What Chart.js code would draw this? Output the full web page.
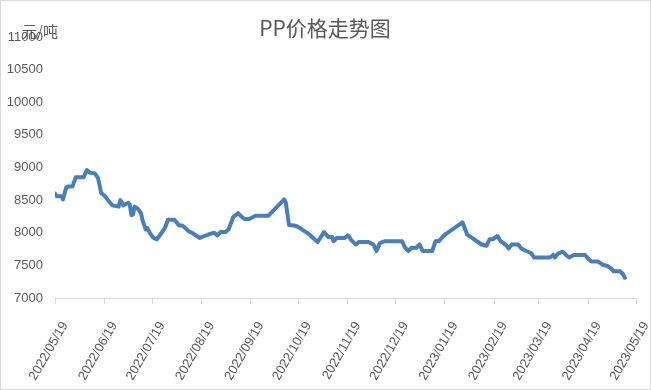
<!DOCTYPE html>
<html>
<head>
<meta charset="utf-8">
<script src="https://cdn.jsdelivr.net/npm/chart.js@4/dist/chart.umd.min.js"></script>
<style>
  html, body { margin: 0; padding: 0; background: #fff; }
  canvas { display: block; }
</style>
</head>
<body>
<canvas id="c" width="651" height="390"></canvas>
<script>
const chartTitle = 'PP价格走势图';
const unitLabel = '元/吨';

const dates = [
  '2022-05-19','2022-05-20','2022-05-23','2022-05-24','2022-05-26','2022-05-27','2022-05-30',
  '2022-06-01','2022-06-06','2022-06-08','2022-06-10','2022-06-13','2022-06-15','2022-06-17',
  '2022-06-19','2022-06-22','2022-06-24','2022-06-28','2022-06-29','2022-07-01','2022-07-04',
  '2022-07-05','2022-07-06','2022-07-07','2022-07-08','2022-07-10','2022-07-12','2022-07-13',
  '2022-07-15','2022-07-16','2022-07-18','2022-07-20','2022-07-22','2022-07-25','2022-07-27',
  '2022-07-29','2022-08-02','2022-08-05','2022-08-07','2022-08-09','2022-08-11','2022-08-13',
  '2022-08-18','2022-08-21','2022-08-24','2022-08-27','2022-08-29','2022-08-31','2022-09-03',
  '2022-09-05','2022-09-08','2022-09-11','2022-09-13','2022-09-15','2022-09-18','2022-09-22',
  '2022-09-30','2022-10-10','2022-10-11','2022-10-13','2022-10-16','2022-10-18','2022-10-20',
  '2022-10-23','2022-10-26','2022-10-29','2022-10-31','2022-11-04','2022-11-07','2022-11-09',
  '2022-11-10','2022-11-12','2022-11-17','2022-11-19','2022-11-20','2022-11-21','2022-11-24',
  '2022-11-26','2022-12-02','2022-12-05','2022-12-07','2022-12-09','2022-12-12','2022-12-23',
  '2022-12-25','2022-12-27','2022-12-29','2023-01-01','2023-01-03','2023-01-05','2023-01-11',
  '2023-01-13','2023-01-15','2023-01-17','2023-01-19','2023-01-30','2023-02-02','2023-02-05',
  '2023-02-08','2023-02-11','2023-02-14','2023-02-16','2023-02-18','2023-02-21','2023-02-23',
  '2023-02-26','2023-02-28','2023-03-02','2023-03-06','2023-03-08','2023-03-11','2023-03-14',
  '2023-03-16','2023-03-26','2023-03-28','2023-03-29','2023-03-31','2023-04-03','2023-04-05',
  '2023-04-07','2023-04-10','2023-04-17','2023-04-19','2023-04-21','2023-04-25','2023-04-28',
  '2023-05-01','2023-05-03','2023-05-05','2023-05-09','2023-05-11','2023-05-12'
];

const prices = [
  8600,8560,8560,8510,8690,8710,8710,
  8850,8850,8960,8920,8910,8840,8610,
  8570,8480,8420,8400,8500,8420,8460,
  8430,8270,8280,8400,8370,8300,8190,
  8050,8070,7980,7920,7900,8000,8070,
  8200,8200,8110,8110,8070,8020,8000,
  7920,7950,7980,8000,7960,8010,8010,
  8050,8240,8300,8250,8210,8210,8260,
  8260,8510,8460,8120,8110,8100,8070,
  8020,7970,7900,7860,8010,7930,7940,
  7870,7920,7920,7960,7930,7890,7820,
  7860,7860,7820,7720,7840,7870,7870,
  7770,7720,7770,7770,7820,7720,7720,
  7870,7870,7920,7970,8160,7970,7920,
  7870,7820,7800,7900,7900,7950,7870,
  7820,7760,7820,7820,7760,7720,7690,
  7620,7620,7660,7620,7680,7710,7660,
  7620,7660,7660,7600,7560,7560,7510,
  7490,7460,7410,7410,7360,7310
];

const tickLabels = [
  '2022/05/19','2022/06/19','2022/07/19','2022/08/19','2022/09/19','2022/10/19','2022/11/19',
  '2022/12/19','2023/01/19','2023/02/19','2023/03/19','2023/04/19','2023/05/19'
];

const yMin = 7000, yMax = 11000, yStep = 500;

function dayOffset(s) {
  const p = s.split(/[-\/]/).map(Number);
  const base = Date.UTC(2022, 4, 19);
  return Math.round((Date.UTC(p[0], p[1] - 1, p[2]) - base) / 86400000);
}
const tickDays = tickLabels.map(dayOffset);
const points = dates.map((d, i) => ({ x: dayOffset(d), y: prices[i] }));

const decor = {
  id: 'decor',
  afterDraw(chart) {
    const ctx = chart.ctx;
    ctx.save();
    ctx.strokeStyle = '#d9d9d9';
    ctx.lineWidth = 1;
    ctx.strokeRect(0.5, 0.5, chart.width - 1, chart.height - 1);
    ctx.fillStyle = '#595959';
    ctx.textAlign = 'center';
    ctx.textBaseline = 'middle';
    ctx.font = '21px "Noto Sans CJK SC", "Noto Sans", sans-serif';
    ctx.fillText(chartTitle, 325, 28);
    ctx.textAlign = 'left';
    ctx.font = '15px "Noto Sans CJK SC", "Noto Sans", sans-serif';
    ctx.fillText(unitLabel, 22, 31);
    ctx.restore();
  }
};

new Chart(document.getElementById('c'), {
  type: 'line',
  data: {
    datasets: [{
      data: points,
      borderColor: '#4A7EBB',
      backgroundColor: '#4A7EBB',
      borderWidth: 4,
      pointRadius: 0,
      tension: 0,
      borderJoinStyle: 'round',
      borderCapStyle: 'round'
    }]
  },
  options: {
    responsive: false,
    animation: false,
    layout: { padding: { top: 37, right: 15, bottom: 0, left: 0 } },
    plugins: { legend: { display: false }, title: { display: false }, tooltip: { enabled: false } },
    scales: {
      x: {
        type: 'linear',
        min: tickDays[0],
        max: tickDays[tickDays.length - 1],
        afterBuildTicks(axis) { axis.ticks = tickDays.map(v => ({ value: v })); },
        afterFit(axis) { axis.height = 92; axis.paddingLeft = 0; axis.paddingRight = 0; },
        ticks: {
          autoSkip: false,
          minRotation: 60,
          maxRotation: 60,
          color: '#595959',
          font: { family: '"Liberation Sans", Arial, sans-serif', size: 13 },
          padding: 15,
          labelOffset: 10,
          callback(value, index) { return tickLabels[index]; }
        },
        grid: { display: true, drawOnChartArea: false, drawTicks: true, tickLength: 6, color: '#d9d9d9' },
        border: { display: true, color: '#d9d9d9', width: 1 }
      },
      y: {
        min: yMin,
        max: yMax,
        afterFit(axis) { axis.width = 55; },
        ticks: {
          stepSize: yStep,
          color: '#595959',
          font: { family: '"Liberation Sans", Arial, sans-serif', size: 13 },
          padding: 12,
          callback(value) { return String(value); }
        },
        grid: { display: false, drawTicks: false },
        border: { display: false }
      }
    }
  },
  plugins: [decor]
});
</script>
</body>
</html>
